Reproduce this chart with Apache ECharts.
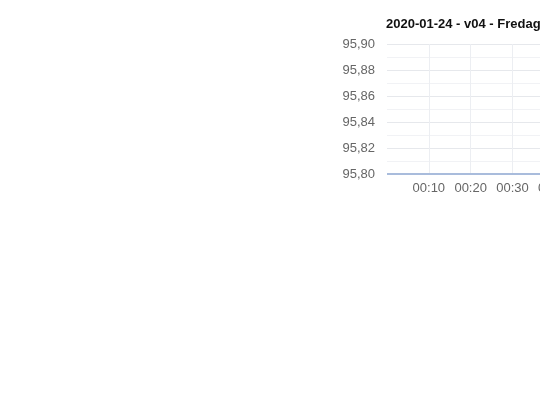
<!DOCTYPE html>
<html>
<head>
<meta charset="utf-8">
<script src="https://cdn.jsdelivr.net/npm/echarts@6/dist/echarts.min.js"></script>
<style>
  html, body { margin: 0; padding: 0; overflow: hidden; background: #fff; }
  #chart { position: absolute; left: 330px; top: 0; width: 320px; height: 200px; }
</style>
</head>
<body>
<div id="chart"></div>
<script>
// 2020-01-24, minutes after midnight and measured value
var minutes = [0, 5, 10, 15, 20, 25, 30, 35, 40, 45, 50, 55, 60];
var values = [95.8, 95.8, 95.8, 95.8, 95.8, 95.8, 95.8, 95.8, 95.8, 95.8, 95.8, 95.8, 95.8];
var titleText = '2020-01-24 - v04 - Fredag';

var seriesData = minutes.map(function (m, i) {
	return [m, values[i]];
});

function hhmm(m) {
	var h = Math.floor(m / 60), mm = m % 60;
	return ('0' + h).slice(-2) + ':' + ('0' + mm).slice(-2);
}

var myChart = echarts.init(document.getElementById('chart'));
myChart.setOption({
	animation: false,
	title: {
		text: titleText,
		left: 51,
		top: 13,
		textStyle: { fontFamily: 'Liberation Sans, Arial', fontSize: 13, fontWeight: 'bold', color: '#111' }
	},
	grid: { left: 57, right: 12, top: 44, bottom: 26, containLabel: false, outerBoundsMode: 'none' },
	xAxis: {
		type: 'value',
		min: 0,
		max: 60,
		interval: 10,
		axisLine: { show: false },
		axisTick: { show: false },
		splitLine: { show: true, showMinLine: false, lineStyle: { color: '#eceef2' } },
		axisLabel: {
			fontFamily: 'Liberation Sans, Arial',
			fontSize: 13,
			color: '#666',
			showMinLabel: false,
			formatter: hhmm
		}
	},
	yAxis: {
		type: 'value',
		min: 95.8,
		max: 95.9,
		interval: 0.02,
		axisLine: { show: false },
		axisTick: { show: false },
		axisLabel: {
			fontFamily: 'Liberation Sans, Arial',
			fontSize: 13,
			color: '#666',
			margin: 12,
			formatter: function (v) { return v.toFixed(2).replace('.', ','); }
		},
		splitLine: { lineStyle: { color: '#e6e8ec' } },
		minorTick: { show: false, splitNumber: 2 },
		minorSplitLine: { show: true, lineStyle: { color: '#f1f2f5' } }
	},
	series: [{
		type: 'line',
		data: seriesData,
		showSymbol: false,
		lineStyle: { width: 2, color: '#a9bcdc' },
		itemStyle: { color: '#a9bcdc' }
	}]
});
</script>
</body>
</html>
